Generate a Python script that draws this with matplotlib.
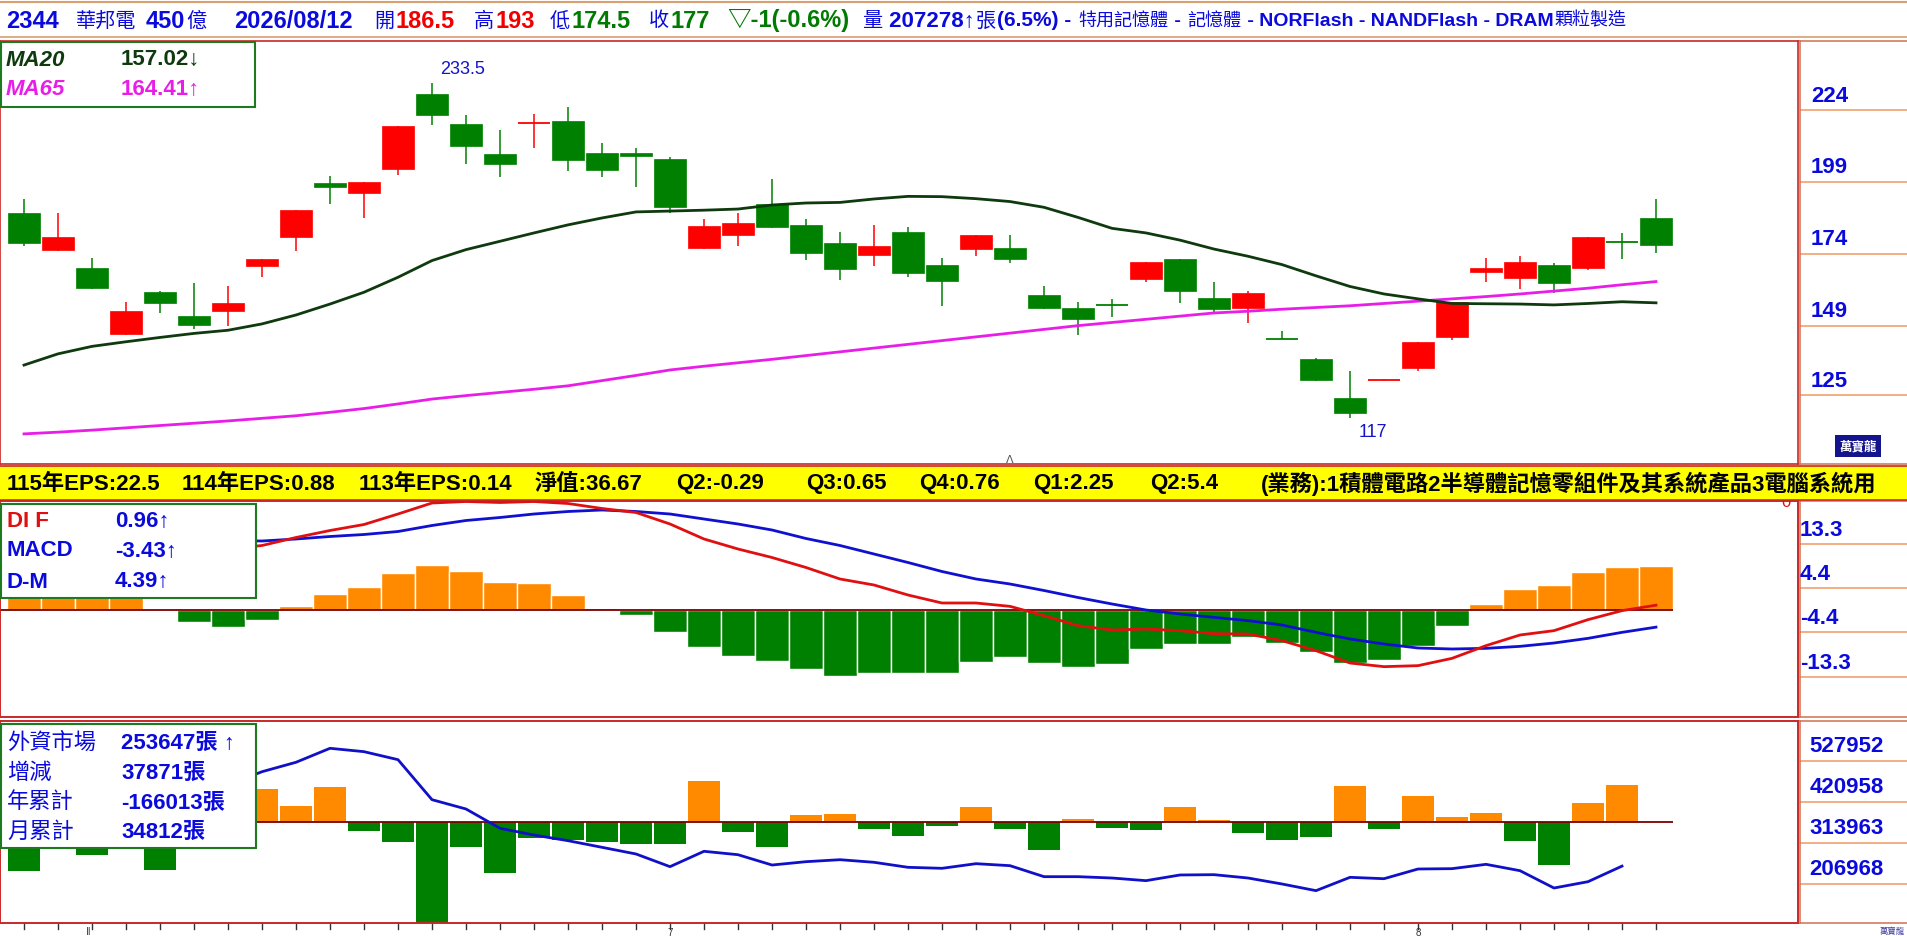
import matplotlib
matplotlib.use('Agg')
import matplotlib.pyplot as plt
from matplotlib.patches import Rectangle
from matplotlib.lines import Line2D
import numpy as np

# ---------------- data ----------------
opens  = [188.2, 175.5, 169.1, 146.3, 160.8, 152.4, 154.3, 169.9, 180.0, 198.6,
          195.3, 203.6, 229.6, 219.1, 208.7, 219.3, 220.2, 209.1, 209.1, 207.0,
          176.2, 180.7, 191.3, 184.1, 177.8, 173.7, 181.6, 170.2, 175.8, 176.1,
          159.7, 155.2, 156.3, 165.4, 172.2, 158.7, 155.3, 144.4, 137.5, 124.0,
          130.0, 134.5, 145.3, 167.6, 165.8, 170.2, 169.2, 178.3, 186.5]
highs  = [193.0, 188.2, 172.6, 157.3, 161.0, 163.9, 162.9, 172.2, 189.3, 201.2,
          199.0, 218.3, 233.5, 222.3, 217.0, 222.6, 225.0, 212.5, 210.9, 207.6,
          186.1, 188.2, 200.0, 186.1, 181.7, 184.1, 183.4, 172.6, 180.6, 180.6,
          162.9, 157.3, 158.4, 171.2, 172.2, 164.3, 161.2, 147.2, 137.9, 133.3,
          130.2, 143.4, 157.2, 172.6, 173.3, 170.9, 179.9, 181.3, 193.0]
lows   = [176.9, 175.0, 161.8, 146.0, 153.6, 148.0, 149.0, 166.1, 175.1, 191.5,
          186.6, 201.5, 218.9, 205.4, 200.8, 210.9, 202.9, 200.8, 197.4, 188.2,
          175.7, 176.9, 183.0, 172.0, 165.1, 169.9, 166.1, 156.0, 173.4, 171.0,
          155.0, 146.0, 152.2, 164.4, 157.1, 153.5, 150.1, 144.3, 130.0, 117.0,
          130.0, 133.5, 144.2, 164.4, 161.9, 160.5, 168.5, 172.4, 174.5]
closes = [177.9, 179.9, 162.3, 154.2, 157.1, 149.4, 157.0, 172.2, 189.3, 197.4,
          199.0, 218.3, 222.4, 211.6, 205.4, 219.4, 206.7, 203.3, 207.9, 190.4,
          183.7, 184.8, 183.5, 174.4, 168.9, 176.8, 167.5, 164.7, 180.6, 172.4,
          155.3, 151.5, 156.2, 171.2, 161.2, 155.0, 160.4, 144.3, 130.3, 118.9,
          130.2, 143.4, 157.2, 169.1, 171.2, 164.0, 179.9, 178.0, 177.0]
ma20 = [135.4, 139.3, 141.9, 143.5, 145.0, 146.4, 147.5, 149.7, 152.8, 156.6,
        160.7, 165.9, 171.7, 175.5, 178.4, 181.3, 184.1, 186.5, 188.6, 188.9,
        189.2, 189.6, 191.0, 191.7, 191.9, 193.1, 194.0, 193.9, 193.2, 192.2,
        190.2, 186.7, 182.9, 181.3, 178.8, 175.7, 173.2, 170.3, 166.4, 162.7,
        160.1, 158.4, 156.8, 156.7, 156.6, 156.3, 156.8, 157.4, 157.02]
ma65 = [111.5, 112.1, 112.8, 113.6, 114.4, 115.2, 116.0, 116.9, 117.8, 119.0,
        120.3, 121.9, 123.6, 124.8, 125.9, 127.0, 128.2, 130.0, 131.8, 133.7,
        135.0, 136.2, 137.4, 138.7, 140.0, 141.3, 142.6, 143.9, 145.2, 146.5,
        147.8, 149.1, 150.2, 151.3, 152.4, 153.5, 154.1, 154.8, 155.4, 156.0,
        156.8, 157.6, 158.4, 159.2, 160.1, 161.1, 162.1, 163.3, 164.41]
dif  = [15.4, 15.3, 15.2, 15.0, 14.0, 12.7, 12.2, 12.9, 14.5, 15.9,
        17.1, 19.2, 21.4, 21.7, 21.5, 21.7, 21.3, 20.3, 19.5, 17.2,
        14.2, 12.2, 10.5, 8.5, 6.2, 5.0, 3.0, 1.4, 1.4, 0.73,
        -1.13, -3.13, -4.0, -3.8, -4.13, -4.73, -4.8, -6.13, -8.13, -10.6,
        -11.33, -11.13, -9.67, -7.13, -5.0, -4.13, -1.93, -0.13, 0.96]
macd = [13.7, 13.7, 13.8, 13.8, 13.9, 13.9, 13.9, 13.8, 14.2, 14.7,
        15.1, 15.7, 16.9, 17.9, 18.5, 19.2, 19.7, 20.0, 19.7, 19.2,
        18.2, 17.2, 16.0, 14.3, 12.9, 11.2, 9.5, 7.7, 6.2, 5.2,
        3.9, 2.5, 1.2, 0.0, -0.8, -1.47, -2.13, -3.0, -4.47, -5.8,
        -6.8, -7.6, -7.8, -7.67, -7.27, -6.6, -5.67, -4.47, -3.43]
dm   = [1.6, 1.6, 1.7, 1.6, 0.1, -1.17, -1.67, -0.97, 0.4, 1.6,
        2.3, 3.7, 4.5, 3.9, 2.83, 2.7, 1.5, 0.23, -0.47, -2.17,
        -3.67, -4.57, -5.07, -5.87, -6.57, -6.27, -6.33, -6.33, -5.17, -4.67,
        -5.27, -5.67, -5.37, -3.87, -3.37, -3.37, -2.73, -3.27, -4.17, -5.27,
        -4.97, -3.57, -1.57, 0.6, 2.13, 2.53, 3.8, 4.33, 4.39]
fx_change = [-49100, -10000, -32900, 20000, -48100, 15000, 25000, 33800, 16500, 36200,
             -8500, -19700, -102500, -24700, -51100, -16300, -17900, -19700, -21700, -21700,
             41900, -9500, -24700, 7400, 8400, -6500, -13600, -3400, 15500, -6800,
             -28100, 3400, -5800, -7800, 15500, 2400, -10800, -17900, -14900, 37200,
             -6800, 27100, 5400, 9400, -19000, -43300, 19600, 37871]
fx_hold = [497000, 487000, 454000, 474000, 426000, 441000, 466000, 500000, 524600, 561100,
           552300, 531400, 427000, 402700, 352300, 334800, 320000, 302700, 285300, 252200,
           292300, 283400, 256500, 265200, 270400, 263600, 250500, 247900, 260000, 254800,
           226100, 226100, 222600, 215700, 230500, 231300, 222600, 207000, 189600, 224400,
           220800, 246100, 247000, 258300, 241700, 196500, 213000, 253647]
price_ticks = [224, 199, 174, 149, 125]
macd_ticks = [13.3, 4.4, -4.4, -13.3]
fx_ticks = [527952, 420958, 313963, 206968]
month_labels = {19: '7', 41: '8'}

# header pieces: (x or None to follow, text, colour, is_latin_bold, size)
header_parts = [
    (6, '2344', 'blue', True, 17), (76, '華邦電', 'blue', False, 14.5),
    (146, '450', 'blue', True, 17), (None, '億', 'blue', False, 14.5),
    (234, '2026/08/12', 'blue', True, 17),
    (374, '開', 'blue', False, 14.5), (None, '186.5', 'red', True, 17),
    (474, '高', 'blue', False, 14.5), (None, '193', 'red', True, 17),
    (550, '低', 'blue', False, 14.5), (None, '174.5', 'green', True, 17),
    (649, '收', 'blue', False, 14.5), (None, '177', 'green', True, 17),
    (727, '▽-1(-0.6%)', 'green', True, 17),
    (862, '量', 'blue', False, 14.5), (None, ' 207278↑', 'blue', True, 16),
    (None, '張', 'blue', False, 14.5), (None, '(6.5%) - ', 'blue', True, 15),
    (None, '特用記憶體', 'blue', False, 13), (None, ' - ', 'blue', True, 14),
    (None, '記憶體', 'blue', False, 13), (None, ' - NORFlash - NANDFlash - DRAM', 'blue', True, 14),
    (None, '顆粒製造', 'blue', False, 13),
]
eps_parts = [
    (7, '115年EPS:22.5'), (182, '114年EPS:0.88'), (359, '113年EPS:0.14'),
    (535, '淨值:36.67'), (676, 'Q2:-0.29'), (806, 'Q3:0.65'), (919, 'Q4:0.76'),
    (1033, 'Q1:2.25'), (1150, 'Q2:5.4'),
    (1261, '(業務):1積體電路2半導體記憶零組件及其系統產品3電腦系統用'),
]

# ---------------- style ----------------
FAM = ['Liberation Sans', 'Noto Sans CJK TC', 'DejaVu Sans']
plt.rcParams['font.family'] = FAM
COL = {'blue': '#0A0ADC', 'red': '#F00000', 'green': '#007A00'}
RED, GRN, ORG = '#FF0000', '#008000', '#FF8A00'
BORDER = '#C82828'
W, H = 1908, 937


def rect(x0, y0, x1, y1):
    return [x0 / W, 1 - y1 / H, (x1 - x0) / W, (y1 - y0) / H]


fig = plt.figure(figsize=(W / 100, H / 100), dpi=100)
fig.patch.set_facecolor('white')
renderer = fig.canvas.get_renderer()


def ftext(x, y, s, color='black', size=16, weight='bold', ha='left', style='normal'):
    return fig.text(x / W, 1 - y / H, s, color=color, fontsize=size, fontweight=weight,
                    ha=ha, va='center', fontstyle=style, family=FAM, zorder=10)


def hline_fig(y, color, lw=1.2, x0=0, x1=W):
    fig.add_artist(Line2D([x0 / W, x1 / W], [1 - y / H, 1 - y / H], color=color, lw=lw,
                          transform=fig.transFigure))


def box_fig(x0, y0, x1, y1, ec='#1E7A1E', fc='white', lw=1.5):
    fig.add_artist(Rectangle((x0 / W, 1 - y1 / H), (x1 - x0) / W, (y1 - y0) / H,
                             transform=fig.transFigure, ec=ec, fc=fc, lw=lw, zorder=5))


def style_ax(a):
    a.set_xticks([]); a.set_yticks([])
    for s in a.spines.values():
        s.set_color(BORDER); s.set_linewidth(1.2)


n = len(closes)
x = np.arange(n)
XL = (-24 / 34, (1798 - 24) / 34)

# header
hline_fig(3, '#D8A070', 1.5)
hline_fig(38, '#D8A070', 1.2)
cur = 0
for px, s, c, latin, sz in header_parts:
    if px is not None:
        cur = px
    t = ftext(cur, 21, s, color=COL[c], size=sz, weight='bold' if latin else 'normal')
    cur += t.get_window_extent(renderer).width + 1

# ---------------- main price panel ----------------
ax = fig.add_axes(rect(0, 42, 1798, 465))
ax.set_xlim(XL)
ax.set_ylim(224 - (465 - 111) / 2.879, 224 + (111 - 42) / 2.879)
style_ax(ax)
bw = 0.93
for i in range(n):
    o, h, l, c = opens[i], highs[i], lows[i], closes[i]
    col = RED if c > o else GRN
    ax.vlines(i, l, h, color=col, lw=1.1, zorder=2)
    if abs(c - o) < 0.6:
        ax.hlines((o + c) / 2, i - bw / 2, i + bw / 2, color=col, lw=1.3, zorder=2)
    else:
        ax.add_patch(Rectangle((i - bw / 2, min(o, c)), bw, abs(c - o), fc=col, ec=col,
                               lw=0.5, zorder=2))
ax.plot(x, ma65, color='#E81EE8', lw=2.0, zorder=3)
ax.plot(x, ma20, color='#0E3A0E', lw=2.0, zorder=3)
imax = int(np.argmax(highs)); imin = int(np.argmin(lows))
ax.annotate(f'{highs[imax]:g}', xy=(imax, highs[imax]), xytext=(6, 10),
            textcoords='offset points', ha='left', va='center', color='#1414C8', fontsize=13)
ax.annotate(f'{lows[imin]:g}', xy=(imin, lows[imin]), xytext=(6, -10),
            textcoords='offset points', ha='left', va='center', color='#1414C8', fontsize=13)
ax.text(29, ax.get_ylim()[0], 'Λ', ha='center', va='bottom', fontsize=8, color='#555555',
        family='DejaVu Sans')

box_fig(1, 43, 255, 108)
ftext(6, 60, 'MA20', color='#0E3A0E', style='italic')
ftext(121, 60, f'{ma20[-1]:.2f}' + ('↓' if ma20[-1] < ma20[-2] else '↑'), color='#0E3A0E')
ftext(6, 90, 'MA65', color='#E81EE8', style='italic')
ftext(121, 90, f'{ma65[-1]:.2f}' + ('↓' if ma65[-1] < ma65[-2] else '↑'), color='#E81EE8')


def strip(y0, y1, ylim, ticks, labels, lx, pad=15):
    s = fig.add_axes(rect(1800, y0, 1908, y1))
    s.set_xlim(0, 1); s.set_ylim(ylim)
    s.set_xticks([]); s.set_yticks([])
    for k, sp in s.spines.items():
        sp.set_color('#D07050'); sp.set_linewidth(1.1)
    s.spines['right'].set_visible(False)
    for t, lab in zip(ticks, labels):
        s.axhline(t, color='#F0A878', lw=1.3)
        s.annotate(lab, xy=(lx, t), xytext=(0, pad * 0.72), textcoords='offset points',
                   ha='left', va='center', color='#0A0ADC', fontsize=16, fontweight='bold')
    return s


s1 = strip(42, 465, ax.get_ylim(), price_ticks, [str(t) for t in price_ticks], 0.10)
s1.add_patch(Rectangle((0.32, 224 - (458 - 111) / 2.879), 0.43, 22 / 2.879, fc='#14148C',
                       ec='none', zorder=4))
s1.text(0.535, 224 - (447 - 111) / 2.879, '萬寶龍', color='white', fontsize=9, fontweight='bold',
        ha='center', va='center', family=['Noto Sans CJK TC'], zorder=5)

# yellow EPS bar
fig.add_artist(Rectangle((0, 1 - 500 / H), 1, 33 / H, transform=fig.transFigure,
                         fc='#FFFF00', ec='none', zorder=1))
hline_fig(466.5, BORDER, 1.2)
hline_fig(500.5, BORDER, 1.2)
for px, s in eps_parts:
    ftext(px, 484, s, color='black', size=16, weight='bold')

# ---------------- MACD panel ----------------
axh = fig.add_axes(rect(0, 502, 1798, 718))
axh.set_xlim(XL)
axh.set_ylim((-21.4) / 2, 21.8 / 2)
style_ax(axh)
axh.bar(x, dm, width=1.0, color=[ORG if v > 0 else GRN for v in dm], edgecolor='white',
        linewidth=1.0, zorder=2)
axh.hlines(0, XL[0], n - 0.5, color='#7A0000', lw=1.3, zorder=3)
axm = axh.twinx()
axm.set_ylim(-21.4, 21.8)
axm.set_xlim(XL)
style_ax(axm)
axm.plot(x, macd, color='#1010D0', lw=2.0, zorder=3)
axm.plot(x, dif, color='#E01010', lw=2.0, zorder=3)
axm.text((1786 - 24) / 34, 21.8, '0', color='#E01010', fontsize=12, ha='center', va='center',
         clip_on=True)
box_fig(1, 505, 256, 599)
ftext(7, 522, 'DI F', color='#E01010')
ftext(115, 522, f'{dif[-1]:.2f}↑', color='#0A0ADC')
ftext(7, 551, 'MACD', color='#0A0ADC')
ftext(115, 551, f'{macd[-1]:.2f}↑', color='#0A0ADC')
ftext(7, 582, 'D-M', color='#0A0ADC')
ftext(115, 582, f'{dm[-1]:.2f}↑', color='#0A0ADC')
strip(502, 718, axm.get_ylim(), macd_ticks, [f'{t:g}' for t in macd_ticks], 0.0, pad=14)

# ---------------- foreign investors panel ----------------
axb = fig.add_axes(rect(0, 722, 1798, 924))
axb.set_xlim(XL)
axb.set_ylim(-(924 - 823.3) * 1015, (823.3 - 722) * 1015)
style_ax(axb)
xf = np.arange(len(fx_change))
axb.bar(xf, fx_change, width=0.95, color=[ORG if v > 0 else GRN for v in fx_change],
        edgecolor='none', zorder=2)
axb.hlines(0, XL[0], n - 0.5, color='#7A0000', lw=1.3, zorder=3)
axl = axb.twinx()
fy = lambda yy: 206968 + (885 - yy) * 2609.6
axl.set_ylim(fy(924), fy(722))
axl.set_xlim(XL)
style_ax(axl)
axl.plot(np.arange(len(fx_hold)), fx_hold, color='#1010C8', lw=2.0, zorder=3)
box_fig(1, 725, 256, 849)
ftext(7, 743, '外資市場', color='#0A0ADC', weight='normal')
ftext(121, 743, f'{fx_hold[-1]}張 ↑', color='#0A0ADC')
ftext(7, 773, '增減', color='#0A0ADC', weight='normal')
ftext(121, 773, f'{fx_change[-1]}張', color='#0A0ADC')
ftext(7, 803, '年累計', color='#0A0ADC', weight='normal')
ftext(121, 803, '-166013張', color='#0A0ADC')
ftext(7, 832, '月累計', color='#0A0ADC', weight='normal')
ftext(121, 832, '34812張', color='#0A0ADC')
strip(722, 924, axl.get_ylim(), fx_ticks, [str(t) for t in fx_ticks], 0.09)

# bottom ticks
for i in range(n):
    px = 24 + 34 * i
    fig.add_artist(Line2D([px / W, px / W], [1 - 925 / H, 1 - 930 / H], color='#333333', lw=1,
                          transform=fig.transFigure))
for i, lab in month_labels.items():
    ftext(24 + 34 * i, 933, lab, color='#333333', size=7, weight='normal', ha='center')
ftext(88, 932, '‖', color='#333333', size=8, weight='normal', ha='center')
ftext(1892, 932, '萬寶龍', color='#4040A0', size=6, weight='normal', ha='center')

fig.savefig('out.png', dpi=100, facecolor='white')
